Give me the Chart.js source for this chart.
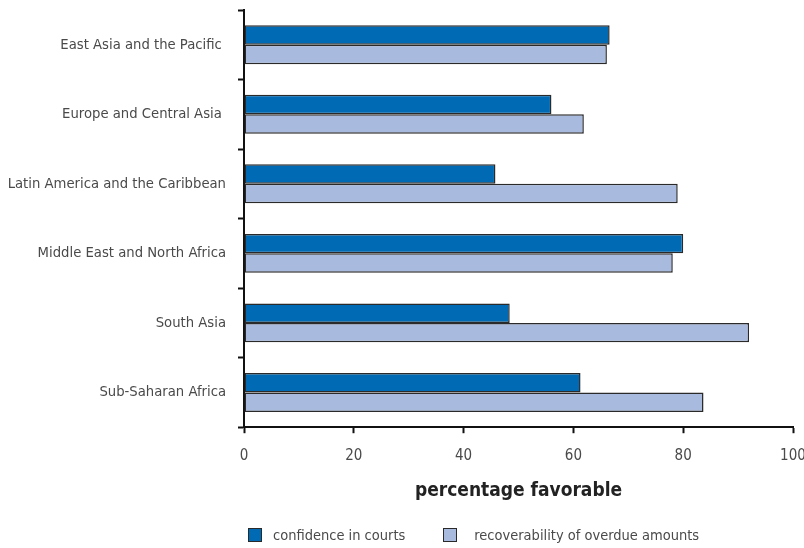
<!DOCTYPE html>
<html>
<head>
<meta charset="utf-8">
<script src="https://cdn.jsdelivr.net/npm/chart.js@4/dist/chart.umd.min.js"></script>
<style>
  html, body { margin: 0; padding: 0; background: #fff; }
  #wrap { position: relative; width: 804px; height: 548px; }
  #legend {
    position: absolute; left: 248px; top: 527px;
    display: flex; font: 14.5px 'DejaVu Sans Condensed', sans-serif;
    color: #4a4a4a;
  }
  .lg-item { display: flex; align-items: center; }
  .lg-item + .lg-item { margin-left: 38px; }
  .lg-box { width: 12px; height: 12px; border: 1.5px solid #2a2a2a; margin-right: 11px; }
  .lg-item + .lg-item .lg-box { margin-right: 17px; }
</style>
</head>
<body>
<div id="wrap">
  <canvas id="c" width="804" height="548"></canvas>
  <div id="legend"></div>
</div>
<script>
const FONT = "'DejaVu Sans Condensed', sans-serif";
const INK = '#4a4a4a', AXIS = '#111';

const regions = [
  'East Asia and the Pacific ',
  'Europe and Central Asia ',
  'Latin America and the Caribbean',
  'Middle East and North Africa',
  'South Asia',
  'Sub-Saharan Africa',
];
const confidenceInCourts = [66.6, 56.0, 45.8, 80.0, 48.4, 61.3];
const recoverability = [66.1, 61.9, 79.0, 78.1, 92.0, 83.7];
const xTicks = [0, 20, 40, 60, 80, 100];

const series = [
  { label: 'confidence in courts', data: confidenceInCourts, color: '#006ab4' },
  { label: 'recoverability of overdue amounts', data: recoverability, color: '#a8bbdf' },
];

const chart = new Chart(document.getElementById('c'), {
  type: 'bar',
  data: {
    labels: regions,
    datasets: series.map((s) => ({
      label: s.label,
      data: s.data,
      backgroundColor: s.color,
      borderColor: '#2a2a2a',
      borderWidth: 1.5,
      borderSkipped: false,
      barPercentage: 1,
      categoryPercentage: 0.56,
    })),
  },
  options: {
    indexAxis: 'y',
    responsive: false,
    animation: false,
    layout: { padding: { top: 10, right: 11, bottom: 46, left: 0 } },
    plugins: { legend: { display: false }, tooltip: { enabled: false } },
    scales: {
      x: {
        min: 0, max: 100,
        afterBuildTicks: (s) => { s.ticks = xTicks.map((v) => ({ value: v })); },
        // keep the plot edge fixed regardless of the last tick label
        afterFit: (s) => { s.paddingLeft = 0; s.paddingRight = 0; },
        border: { color: AXIS, width: 2 },
        grid: { drawOnChartArea: false, drawTicks: true, tickLength: 6, tickWidth: 2, tickColor: AXIS },
        ticks: { color: INK, padding: 14, font: { family: FONT, size: 15 } },
        title: {
          display: true, text: 'percentage favorable', color: '#222',
          font: { family: FONT, size: 19, weight: 'bold' }, padding: { top: 0, bottom: 0 },
        },
      },
      y: {
        afterFit: (s) => { s.width = 244; s.paddingTop = 0; s.paddingBottom = 0; },
        border: { color: AXIS, width: 2 },
        grid: { offset: true, drawOnChartArea: false, drawTicks: true, tickLength: 6, tickWidth: 2, tickColor: AXIS },
        ticks: { color: INK, padding: 12, font: { family: FONT, size: 14.7 } },
      },
    },
  },
});

// html legend below the chart
document.getElementById('legend').innerHTML = chart.data.datasets.map((d) =>
  `<div class="lg-item"><span class="lg-box" style="background:${d.backgroundColor}"></span>${d.label}</div>`
).join('');
</script>
</body>
</html>
